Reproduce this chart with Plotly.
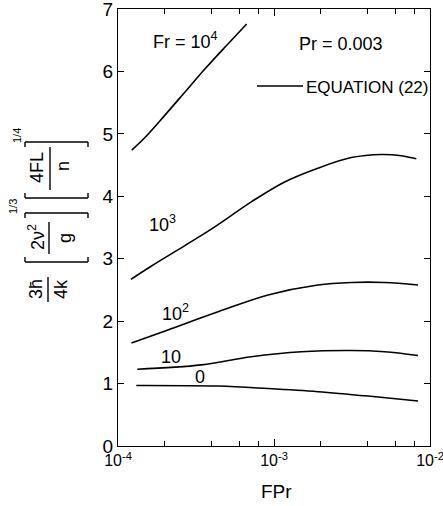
import plotly.graph_objects as go

# ---- data ----
fr_labels = ["Fr = 10<sup>4</sup>", "10<sup>3</sup>", "10<sup>2</sup>", "10", "0"]

fpr_fr1e4 = [1.225e-4, 1.5e-4, 2.0e-4, 2.75e-4, 3.70e-4, 4.98e-4, 6.68e-4]
h_fr1e4 = [4.74, 4.95, 5.30, 5.70, 6.07, 6.42, 6.76]

fpr_fr1e3 = [1.21e-4, 1.63e-4, 2.68e-4, 4.17e-4, 7.15e-4, 1.17e-3, 1.91e-3, 3.13e-3, 4.88e-3, 6.55e-3, 8.17e-3]
h_fr1e3 = [2.67, 2.88, 3.21, 3.51, 3.91, 4.23, 4.45, 4.62, 4.67, 4.65, 4.60]

fpr_fr1e2 = [1.22e-4, 2.09e-4, 4.38e-4, 9.16e-4, 1.91e-3, 3.13e-3, 5.12e-3, 8.38e-3]
h_fr1e2 = [1.65, 1.86, 2.15, 2.42, 2.58, 2.62, 2.62, 2.58]

fpr_fr10 = [1.33e-4, 3.42e-4, 7.15e-4, 1.50e-3, 3.13e-3, 5.12e-3, 8.38e-3]
h_fr10 = [1.23, 1.30, 1.43, 1.51, 1.53, 1.51, 1.45]

fpr_fr0 = [1.31e-4, 4.38e-4, 9.16e-4, 1.91e-3, 4.01e-3, 8.38e-3]
h_fr0 = [0.97, 0.96, 0.92, 0.87, 0.80, 0.72]

x_tickvals = [1e-4, 1e-3, 1e-2]
x_ticktext = ["10<sup>-4</sup>", "10<sup>-3</sup>", "10<sup>-2</sup>"]
x_minor = [m * d for d in (1e-4, 1e-3) for m in (2, 4, 6, 8)]
y_tickvals = [0, 1, 2, 3, 4, 5, 6, 7]

# ---- layout geometry (page pixels) ----
W, H = 443, 506
PL, PR, PT, PB = 118, 430, 9, 446          # plot area
FONT = "Liberation Sans, Arial, DejaVu Sans"


def px(x):
    return (x - PL) / (PR - PL)


def py(y):
    return (PB - y) / (PB - PT)


fig = go.Figure()
series = [(fpr_fr1e4, h_fr1e4), (fpr_fr1e3, h_fr1e3), (fpr_fr1e2, h_fr1e2),
          (fpr_fr10, h_fr10), (fpr_fr0, h_fr0)]
for (xs, ys), name in zip(series, fr_labels):
    fig.add_trace(go.Scatter(x=xs, y=ys, mode="lines", name=name,
                             line=dict(color="black", width=1.6, shape="spline", smoothing=1.0),
                             showlegend=False, hoverinfo="skip"))

ann = []
shapes = []


def text(t, x, y, size=18, angle=0, xanchor="center"):
    ann.append(dict(text=t, x=px(x), y=py(y), xref="paper", yref="paper",
                    showarrow=False, textangle=angle, xanchor=xanchor,
                    yanchor="middle", font=dict(family=FONT, size=size, color="black")))


def seg(x0, y0, x1, y1, w=1.4):
    shapes.append(dict(type="line", xref="paper", yref="paper",
                       x0=px(x0), y0=py(y0), x1=px(x1), y1=py(y1),
                       line=dict(color="black", width=w)))


# curve labels
text(fr_labels[0], 185, 41)
text(fr_labels[1], 162, 223)
text(fr_labels[2], 175, 312)
text(fr_labels[3], 171, 357)
text(fr_labels[4], 200, 377)
text("Pr = 0.003", 341, 44)
# legend
seg(257, 86, 303, 86, w=1.4)
text("EQUATION (22)", 304, 88, size=17, xanchor="left")

# y-axis label pieces (rotated)
text("3h\u0304", 36, 289, angle=-90)
seg(48, 277, 48, 302)
text("4k", 61, 289, angle=-90)
text("2\u03bd<sup>2</sup>", 36, 237, angle=-90)
seg(49, 222, 49, 254)
text("g", 65, 238, angle=-90)
text("4FL", 37, 168, angle=-90)
seg(50, 147, 50, 190)
text("n", 63, 166, angle=-90)
text("1/3", 13, 206, size=11, angle=-90)
text("1/4", 17, 136, size=11, angle=-90)
# brackets
for ylow, yhigh in ((262, 213), (198, 142)):
    seg(25, ylow, 88, ylow)
    seg(25, ylow, 25, ylow - 5)
    seg(88, ylow, 88, ylow - 5)
    seg(25, yhigh, 88, yhigh)
    seg(25, yhigh, 25, yhigh + 5)
    seg(88, yhigh, 88, yhigh + 5)

# x title
text("FPr", 276, 491, size=19)

fig.update_layout(
    width=W, height=H,
    margin=dict(l=PL, r=W - PR, t=PT, b=H - PB, autoexpand=False),
    paper_bgcolor="white", plot_bgcolor="white",
    font=dict(family=FONT, color="black"),
    annotations=ann, shapes=shapes,
    xaxis=dict(type="log", range=[-4, -2], tickvals=x_tickvals, ticktext=x_ticktext,
               ticks="inside", ticklen=7, tickwidth=1.2, tickcolor="black",
               showline=True, linecolor="black", linewidth=1.4, mirror="ticks",
               showgrid=False, zeroline=False, tickfont=dict(size=16),
               ticklabeloverflow="allow",
               minor=dict(tickvals=x_minor, ticks="inside", ticklen=5,
                          tickcolor="black", tickwidth=1.2, showgrid=False)),
    yaxis=dict(range=[0, 7], tickvals=y_tickvals, ticks="inside", ticklen=6,
               tickwidth=1.2, tickcolor="black", showline=True, linecolor="black",
               linewidth=1.4, mirror="ticks", showgrid=False, zeroline=False,
               tickfont=dict(size=19), ticklabeloverflow="allow"),
)

fig.write_html("out.html", config={"displayModeBar": False},
               post_script="document.body.style.margin='0';document.body.style.overflow='hidden';")
